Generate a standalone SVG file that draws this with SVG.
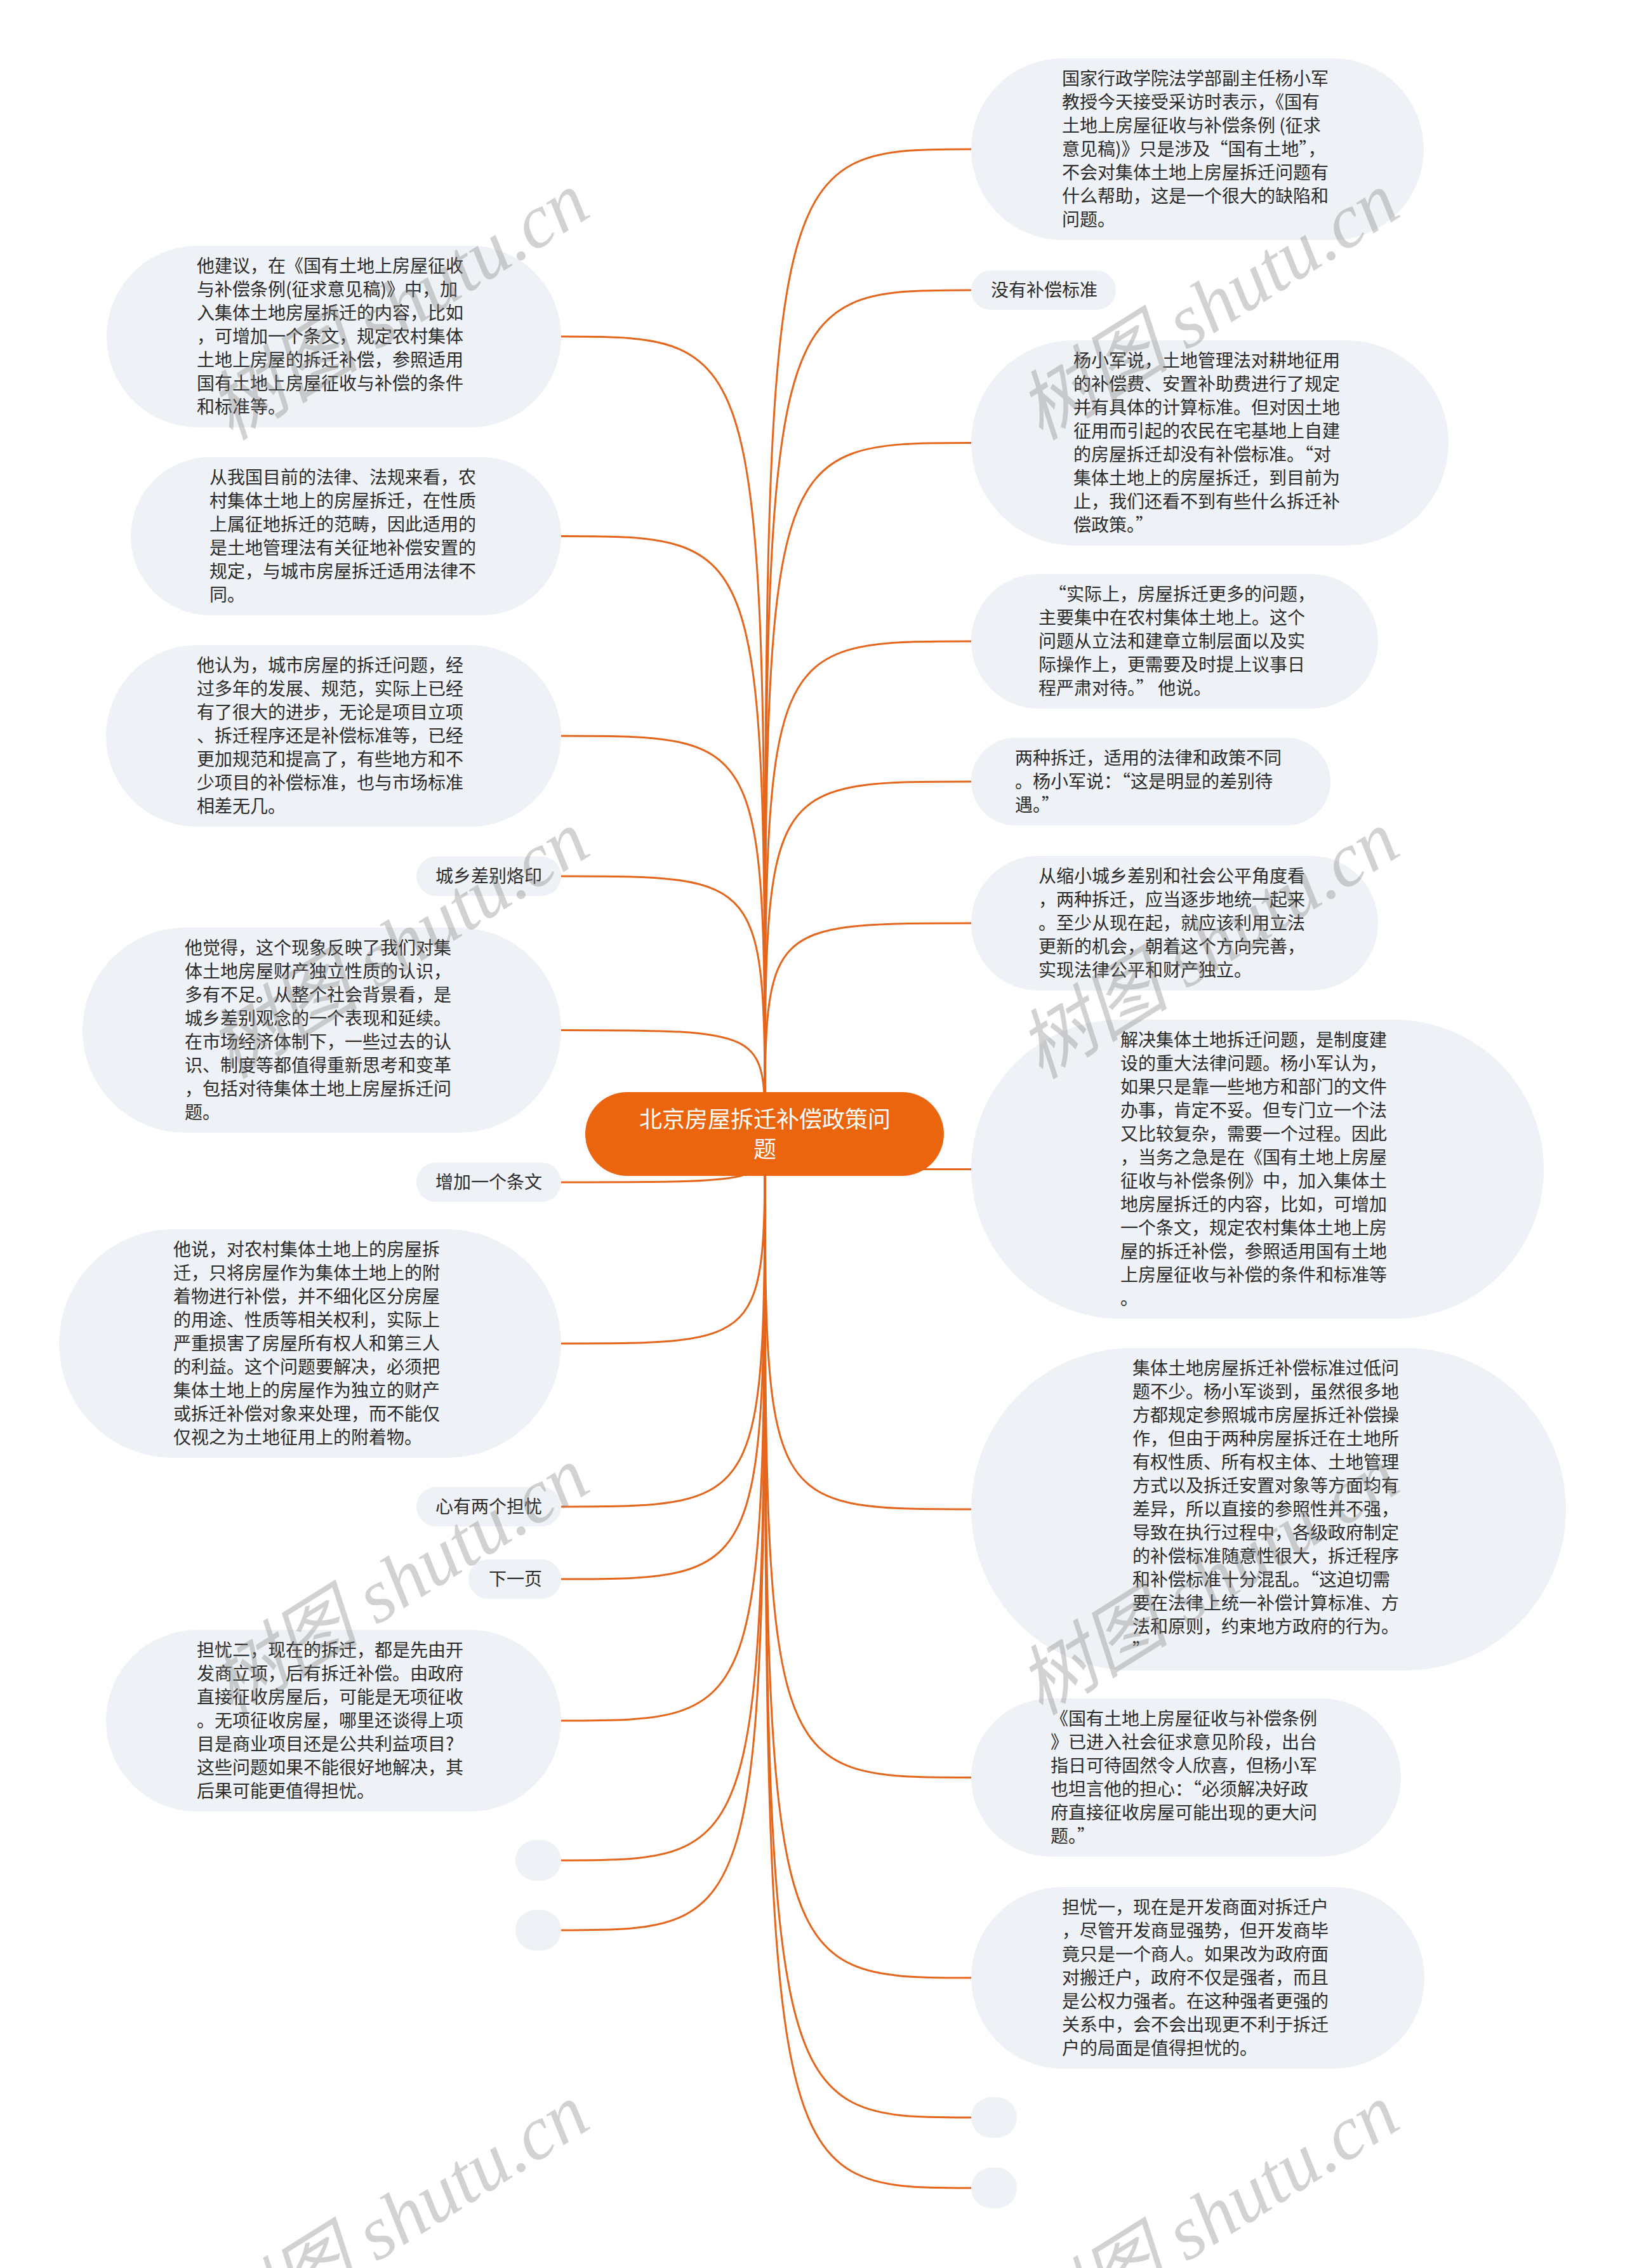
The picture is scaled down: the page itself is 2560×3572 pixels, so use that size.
<svg xmlns="http://www.w3.org/2000/svg" width="2560" height="3572" viewBox="0 0 2560 3572">
<style>
.bg{fill:#ffffff}
.node rect{fill:#EEF1F5}
.t{font-family:"Noto Sans CJK SC","Noto Sans",sans-serif;font-size:28px;fill:#2b2b2b}
.link{fill:none;stroke:#E4661C;stroke-width:3}
.root rect{fill:#EB650F}
.rt{font-family:"Noto Sans CJK SC","Noto Sans",sans-serif;font-size:36px;fill:#ffffff;text-anchor:middle}
.wm{font-family:"Liberation Serif","Noto Sans CJK SC",serif;font-style:italic;font-size:120px;fill:#7f7f7f;fill-opacity:0.35}
</style>
<rect class="bg" x="0" y="0" width="2560" height="3572"/>
<g id="connectors">
<path class="link" d="M1205 1786 C1205 235 1205 235 1530 235"/>
<path class="link" d="M1205 1786 C1205 457 1205 457 1530 457"/>
<path class="link" d="M1205 1786 C1205 697.5 1205 697.5 1530 697.5"/>
<path class="link" d="M1205 1786 C1205 1010 1205 1010 1530 1010"/>
<path class="link" d="M1205 1786 C1205 1231 1205 1231 1530 1231"/>
<path class="link" d="M1205 1786 C1205 1454 1205 1454 1530 1454"/>
<path class="link" d="M1205 1786 C1205 1841.5 1205 1841.5 1530 1841.5"/>
<path class="link" d="M1205 1786 C1205 2377 1205 2377 1530 2377"/>
<path class="link" d="M1205 1786 C1205 2799.5 1205 2799.5 1530 2799.5"/>
<path class="link" d="M1205 1786 C1205 3115 1205 3115 1530 3115"/>
<path class="link" d="M1205 1786 C1205 3335 1205 3335 1530 3335"/>
<path class="link" d="M1205 1786 C1205 3446 1205 3446 1530 3446"/>
<path class="link" d="M1205 1786 C1205 530 1205 530 884 530"/>
<path class="link" d="M1205 1786 C1205 844.5 1205 844.5 884 844.5"/>
<path class="link" d="M1205 1786 C1205 1159 1205 1159 884 1159"/>
<path class="link" d="M1205 1786 C1205 1380 1205 1380 884 1380"/>
<path class="link" d="M1205 1786 C1205 1622.5 1205 1622.5 884 1622.5"/>
<path class="link" d="M1205 1786 C1205 1862 1205 1862 884 1862"/>
<path class="link" d="M1205 1786 C1205 2116 1205 2116 884 2116"/>
<path class="link" d="M1205 1786 C1205 2373 1205 2373 884 2373"/>
<path class="link" d="M1205 1786 C1205 2487 1205 2487 884 2487"/>
<path class="link" d="M1205 1786 C1205 2710 1205 2710 884 2710"/>
<path class="link" d="M1205 1786 C1205 2930 1205 2930 884 2930"/>
<path class="link" d="M1205 1786 C1205 3040 1205 3040 884 3040"/>
</g>
<g id="root" class="root">
<rect x="922" y="1720" width="565" height="132" rx="66"/>
<text class="rt"><tspan x="1205" y="1776">北京房屋拆迁补偿政策问</tspan><tspan x="1205" y="1823">题</tspan></text>
</g>
<g id="r1" class="node">
<rect x="1530" y="92" width="713" height="286" rx="143"/>
<text class="t"><tspan x="1673" y="134">国家行政学院法学部副主任杨小军</tspan><tspan x="1673" y="171">教授今天接受采访时表示，《国有</tspan><tspan x="1673" y="208">土地上房屋征收与补偿条例 (征求</tspan><tspan x="1673" y="245">意见稿)》只是涉及“国有土地”，</tspan><tspan x="1673" y="282">不会对集体土地上房屋拆迁问题有</tspan><tspan x="1673" y="319">什么帮助，这是一个很大的缺陷和</tspan><tspan x="1673" y="356">问题。</tspan></text>
</g>
<g id="r2" class="node">
<rect x="1530" y="426" width="228" height="62" rx="31"/>
<text class="t" x="1561" y="467">没有补偿标准</text>
</g>
<g id="r3" class="node">
<rect x="1530" y="536" width="752" height="323" rx="161.5"/>
<text class="t"><tspan x="1691" y="578">杨小军说，土地管理法对耕地征用</tspan><tspan x="1691" y="615">的补偿费、安置补助费进行了规定</tspan><tspan x="1691" y="652">并有具体的计算标准。但对因土地</tspan><tspan x="1691" y="689">征用而引起的农民在宅基地上自建</tspan><tspan x="1691" y="726">的房屋拆迁却没有补偿标准。“对</tspan><tspan x="1691" y="763">集体土地上的房屋拆迁，到目前为</tspan><tspan x="1691" y="800">止，我们还看不到有些什么拆迁补</tspan><tspan x="1691" y="837">偿政策。”</tspan></text>
</g>
<g id="r4" class="node">
<rect x="1530" y="904" width="641" height="212" rx="106"/>
<text class="t"><tspan x="1652" y="946">“实际上，房屋拆迁更多的问题，</tspan><tspan x="1636" y="983">主要集中在农村集体土地上。这个</tspan><tspan x="1636" y="1020">问题从立法和建章立制层面以及实</tspan><tspan x="1636" y="1057">际操作上，更需要及时提上议事日</tspan><tspan x="1636" y="1094">程严肃对待。” 他说。</tspan></text>
</g>
<g id="r5" class="node">
<rect x="1530" y="1162" width="566" height="138" rx="69"/>
<text class="t"><tspan x="1599" y="1204">两种拆迁，适用的法律和政策不同</tspan><tspan x="1599" y="1241">。杨小军说：“这是明显的差别待</tspan><tspan x="1599" y="1278">遇。”</tspan></text>
</g>
<g id="r6" class="node">
<rect x="1530" y="1348" width="641" height="212" rx="106"/>
<text class="t"><tspan x="1636" y="1390">从缩小城乡差别和社会公平角度看</tspan><tspan x="1636" y="1427">，两种拆迁，应当逐步地统一起来</tspan><tspan x="1636" y="1464">。至少从现在起，就应该利用立法</tspan><tspan x="1636" y="1501">更新的机会，朝着这个方向完善，</tspan><tspan x="1636" y="1538">实现法律公平和财产独立。</tspan></text>
</g>
<g id="r7" class="node">
<rect x="1530" y="1606" width="902" height="471" rx="235.5"/>
<text class="t"><tspan x="1765" y="1648">解决集体土地拆迁问题，是制度建</tspan><tspan x="1765" y="1685">设的重大法律问题。杨小军认为，</tspan><tspan x="1765" y="1722">如果只是靠一些地方和部门的文件</tspan><tspan x="1765" y="1759">办事，肯定不妥。但专门立一个法</tspan><tspan x="1765" y="1796">又比较复杂，需要一个过程。因此</tspan><tspan x="1765" y="1833">，当务之急是在《国有土地上房屋</tspan><tspan x="1765" y="1870">征收与补偿条例》中，加入集体土</tspan><tspan x="1765" y="1907">地房屋拆迁的内容，比如，可增加</tspan><tspan x="1765" y="1944">一个条文，规定农村集体土地上房</tspan><tspan x="1765" y="1981">屋的拆迁补偿，参照适用国有土地</tspan><tspan x="1765" y="2018">上房屋征收与补偿的条件和标准等</tspan><tspan x="1765" y="2055">。</tspan></text>
</g>
<g id="r8" class="node">
<rect x="1530" y="2123" width="937" height="508" rx="254"/>
<text class="t"><tspan x="1784" y="2165">集体土地房屋拆迁补偿标准过低问</tspan><tspan x="1784" y="2202">题不少。杨小军谈到，虽然很多地</tspan><tspan x="1784" y="2239">方都规定参照城市房屋拆迁补偿操</tspan><tspan x="1784" y="2276">作，但由于两种房屋拆迁在土地所</tspan><tspan x="1784" y="2313">有权性质、所有权主体、土地管理</tspan><tspan x="1784" y="2350">方式以及拆迁安置对象等方面均有</tspan><tspan x="1784" y="2387">差异，所以直接的参照性并不强，</tspan><tspan x="1784" y="2424">导致在执行过程中，各级政府制定</tspan><tspan x="1784" y="2461">的补偿标准随意性很大，拆迁程序</tspan><tspan x="1784" y="2498">和补偿标准十分混乱。“这迫切需</tspan><tspan x="1784" y="2535">要在法律上统一补偿计算标准、方</tspan><tspan x="1784" y="2572">法和原则，约束地方政府的行为。</tspan><tspan x="1784" y="2609">”</tspan></text>
</g>
<g id="r9" class="node">
<rect x="1530" y="2675" width="677" height="249" rx="124.5"/>
<text class="t"><tspan x="1655" y="2717">《国有土地上房屋征收与补偿条例</tspan><tspan x="1655" y="2754">》已进入社会征求意见阶段，出台</tspan><tspan x="1655" y="2791">指日可待固然令人欣喜，但杨小军</tspan><tspan x="1655" y="2828">也坦言他的担心：“必须解决好政</tspan><tspan x="1655" y="2865">府直接征收房屋可能出现的更大问</tspan><tspan x="1655" y="2902">题。”</tspan></text>
</g>
<g id="r10" class="node">
<rect x="1530" y="2972" width="714" height="286" rx="143"/>
<text class="t"><tspan x="1673" y="3014">担忧一，现在是开发商面对拆迁户</tspan><tspan x="1673" y="3051">，尽管开发商显强势，但开发商毕</tspan><tspan x="1673" y="3088">竟只是一个商人。如果改为政府面</tspan><tspan x="1673" y="3125">对搬迁户，政府不仅是强者，而且</tspan><tspan x="1673" y="3162">是公权力强者。在这种强者更强的</tspan><tspan x="1673" y="3199">关系中，会不会出现更不利于拆迁</tspan><tspan x="1673" y="3236">户的局面是值得担忧的。</tspan></text>
</g>
<g id="r11" class="node"><rect x="1530" y="3303" width="72" height="64" rx="32"/></g>
<g id="r12" class="node"><rect x="1530" y="3414" width="72" height="64" rx="32"/></g>
<g id="l1" class="node">
<rect x="168" y="387" width="716" height="286" rx="143"/>
<text class="t"><tspan x="310" y="429">他建议，在《国有土地上房屋征收</tspan><tspan x="310" y="466">与补偿条例(征求意见稿)》中，加</tspan><tspan x="310" y="503">入集体土地房屋拆迁的内容，比如</tspan><tspan x="310" y="540">，可增加一个条文，规定农村集体</tspan><tspan x="310" y="577">土地上房屋的拆迁补偿，参照适用</tspan><tspan x="310" y="614">国有土地上房屋征收与补偿的条件</tspan><tspan x="310" y="651">和标准等。</tspan></text>
</g>
<g id="l2" class="node">
<rect x="206" y="720" width="678" height="249" rx="124.5"/>
<text class="t"><tspan x="330" y="762">从我国目前的法律、法规来看，农</tspan><tspan x="330" y="799">村集体土地上的房屋拆迁，在性质</tspan><tspan x="330" y="836">上属征地拆迁的范畴，因此适用的</tspan><tspan x="330" y="873">是土地管理法有关征地补偿安置的</tspan><tspan x="330" y="910">规定，与城市房屋拆迁适用法律不</tspan><tspan x="330" y="947">同。</tspan></text>
</g>
<g id="l3" class="node">
<rect x="167" y="1016" width="717" height="286" rx="143"/>
<text class="t"><tspan x="310" y="1058">他认为，城市房屋的拆迁问题，经</tspan><tspan x="310" y="1095">过多年的发展、规范，实际上已经</tspan><tspan x="310" y="1132">有了很大的进步，无论是项目立项</tspan><tspan x="310" y="1169">、拆迁程序还是补偿标准等，已经</tspan><tspan x="310" y="1206">更加规范和提高了，有些地方和不</tspan><tspan x="310" y="1243">少项目的补偿标准，也与市场标准</tspan><tspan x="310" y="1280">相差无几。</tspan></text>
</g>
<g id="l4" class="node">
<rect x="656" y="1349" width="228" height="62" rx="31"/>
<text class="t" x="686" y="1390">城乡差别烙印</text>
</g>
<g id="l5" class="node">
<rect x="130" y="1461" width="754" height="323" rx="161.5"/>
<text class="t"><tspan x="291" y="1503">他觉得，这个现象反映了我们对集</tspan><tspan x="291" y="1540">体土地房屋财产独立性质的认识，</tspan><tspan x="291" y="1577">多有不足。从整个社会背景看，是</tspan><tspan x="291" y="1614">城乡差别观念的一个表现和延续。</tspan><tspan x="291" y="1651">在市场经济体制下，一些过去的认</tspan><tspan x="291" y="1688">识、制度等都值得重新思考和变革</tspan><tspan x="291" y="1725">，包括对待集体土地上房屋拆迁问</tspan><tspan x="291" y="1762">题。</tspan></text>
</g>
<g id="l6" class="node">
<rect x="656" y="1831" width="228" height="62" rx="31"/>
<text class="t" x="686" y="1872">增加一个条文</text>
</g>
<g id="l7" class="node">
<rect x="93" y="1936" width="791" height="360" rx="180"/>
<text class="t"><tspan x="273" y="1978">他说，对农村集体土地上的房屋拆</tspan><tspan x="273" y="2015">迁，只将房屋作为集体土地上的附</tspan><tspan x="273" y="2052">着物进行补偿，并不细化区分房屋</tspan><tspan x="273" y="2089">的用途、性质等相关权利，实际上</tspan><tspan x="273" y="2126">严重损害了房屋所有权人和第三人</tspan><tspan x="273" y="2163">的利益。这个问题要解决，必须把</tspan><tspan x="273" y="2200">集体土地上的房屋作为独立的财产</tspan><tspan x="273" y="2237">或拆迁补偿对象来处理，而不能仅</tspan><tspan x="273" y="2274">仅视之为土地征用上的附着物。</tspan></text>
</g>
<g id="l8" class="node">
<rect x="656" y="2342" width="228" height="62" rx="31"/>
<text class="t" x="686" y="2383">心有两个担忧</text>
</g>
<g id="l9" class="node">
<rect x="738" y="2456" width="146" height="62" rx="31"/>
<text class="t" x="770" y="2497">下一页</text>
</g>
<g id="l10" class="node">
<rect x="167" y="2567" width="717" height="286" rx="143"/>
<text class="t"><tspan x="310" y="2609">担忧二，现在的拆迁，都是先由开</tspan><tspan x="310" y="2646">发商立项，后有拆迁补偿。由政府</tspan><tspan x="310" y="2683">直接征收房屋后，可能是无项征收</tspan><tspan x="310" y="2720">。无项征收房屋，哪里还谈得上项</tspan><tspan x="310" y="2757">目是商业项目还是公共利益项目?</tspan><tspan x="310" y="2794">这些问题如果不能很好地解决，其</tspan><tspan x="310" y="2831">后果可能更值得担忧。</tspan></text>
</g>
<g id="l11" class="node"><rect x="812" y="2898" width="72" height="64" rx="32"/></g>
<g id="l12" class="node"><rect x="812" y="3008" width="72" height="64" rx="32"/></g>
<g id="watermarks">
<text class="wm" transform="translate(364,695) rotate(-32)">树图 shutu.cn</text>
<text class="wm" transform="translate(1640,695) rotate(-32)">树图 shutu.cn</text>
<text class="wm" transform="translate(364,1701) rotate(-32)">树图 shutu.cn</text>
<text class="wm" transform="translate(1640,1701) rotate(-32)">树图 shutu.cn</text>
<text class="wm" transform="translate(364,2703) rotate(-32)">树图 shutu.cn</text>
<text class="wm" transform="translate(1640,2703) rotate(-32)">树图 shutu.cn</text>
<text class="wm" transform="translate(364,3706) rotate(-32)">树图 shutu.cn</text>
<text class="wm" transform="translate(1640,3706) rotate(-32)">树图 shutu.cn</text>
</g>
</svg>
